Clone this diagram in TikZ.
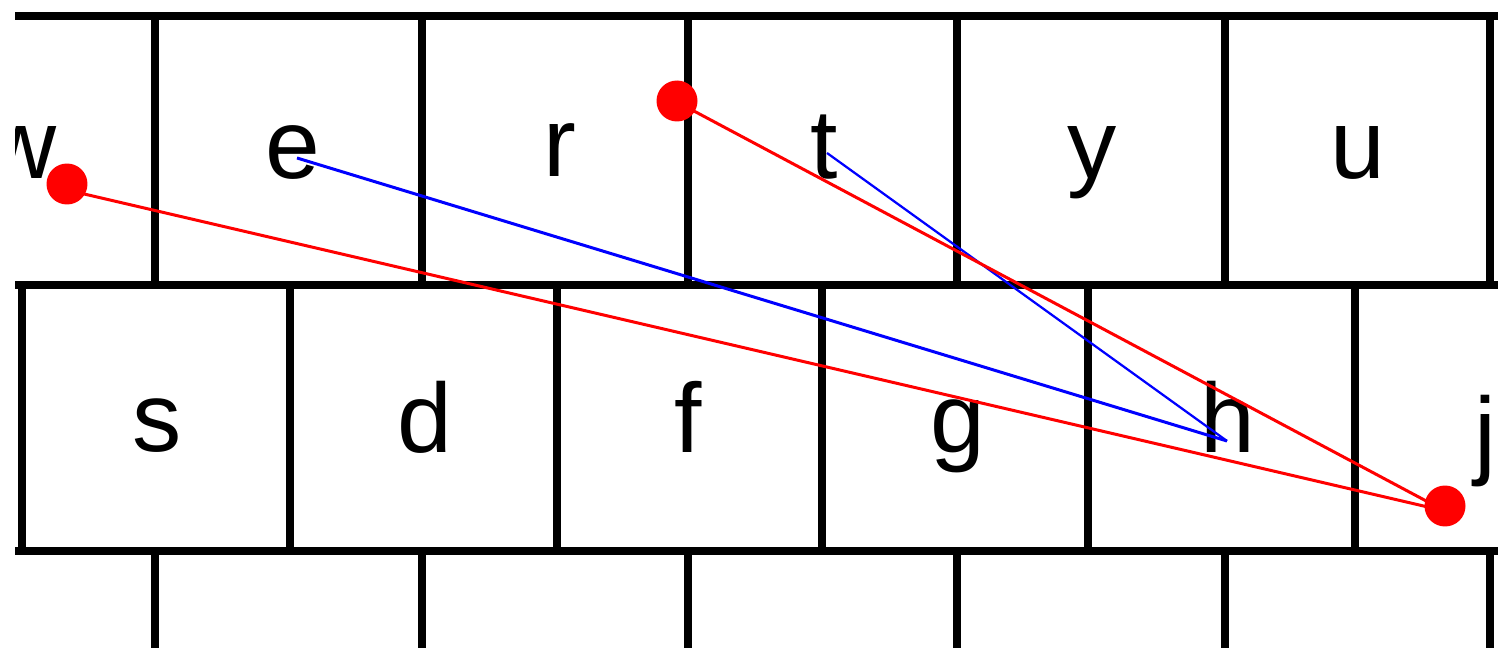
\documentclass[tikz,border=0pt]{standalone}
\usepackage{fontspec}
\setmainfont{Liberation Sans}
\begin{document}
\begin{tikzpicture}[x=0.02cm,y=-0.02cm,
  gridline/.style={line width=0.15cm, black},
  keylabel/.style={anchor=base, inner sep=0pt, font=\fontsize{56pt}{60pt}\selectfont},
  touch/.style={circle, fill=red, draw=none, minimum size=0.82cm, inner sep=0pt},
  redpath/.style={red, line width=0.06cm},
  bluepath/.style={blue, line width=0.06cm},
  bluethin/.style={blue, line width=0.045cm}]
\useasboundingbox (0,0) rectangle (1498,648);
\clip (15,0) rectangle (1498,648);
% horizontal grid lines
\draw[gridline] (15,16) -- (1510,16);
\draw[gridline] (15,285) -- (1510,285);
\draw[gridline] (15,551) -- (1510,551);
% row 1 verticals
\foreach \x in {155,422,688,957,1225,1490} \draw[gridline] (\x,16) -- (\x,285);
% row 2 verticals
\foreach \x in {22,290,557,822,1088,1355} \draw[gridline] (\x,285) -- (\x,551);
% row 3 verticals
\foreach \x in {155,422,688,957,1225,1490} \draw[gridline] (\x,551) -- (\x,660);
% key labels
\node[keylabel] (kw) at (21,179) {w};
\node[keylabel] (ke) at (293,179) {e};
\node[keylabel] (kr) at (560,177) {r};
\node[keylabel] (kt) at (824,179) {t};
\node[keylabel] (ky) at (1092,179) {y};
\node[keylabel] (ku) at (1358,179) {u};
\node[keylabel] (ks) at (157,452) {s};
\node[keylabel] (kd) at (425,453) {d};
\node[keylabel] (kf) at (688,453) {f};
\node[keylabel] (kg) at (958,453) {g};
\node[keylabel] (kh) at (1228,453) {h};
\node[keylabel] (kj) at (1485,466) {j};
% touch points
\coordinate (p1) at (67,184);
\coordinate (p2) at (677,101);
\coordinate (p3) at (1445,506);
\coordinate (l1a) at (67,190);
\coordinate (l2a) at (677,102);
\coordinate (lend) at (1445,511);
\coordinate (be) at (297,158);
\coordinate (bt) at (827,153);
\coordinate (bh) at (1227,441);
% paths
\draw[bluepath] (be) -- (bh);
\draw[bluethin] (bt) -- (bh);
\draw[redpath] (l1a) -- (lend);
\draw[redpath] (l2a) -- (lend);
% dots
\node[touch] (d1) at (p1) {};
\node[touch] (d2) at (p2) {};
\node[touch] (d3) at (p3) {};
\end{tikzpicture}
\end{document}
